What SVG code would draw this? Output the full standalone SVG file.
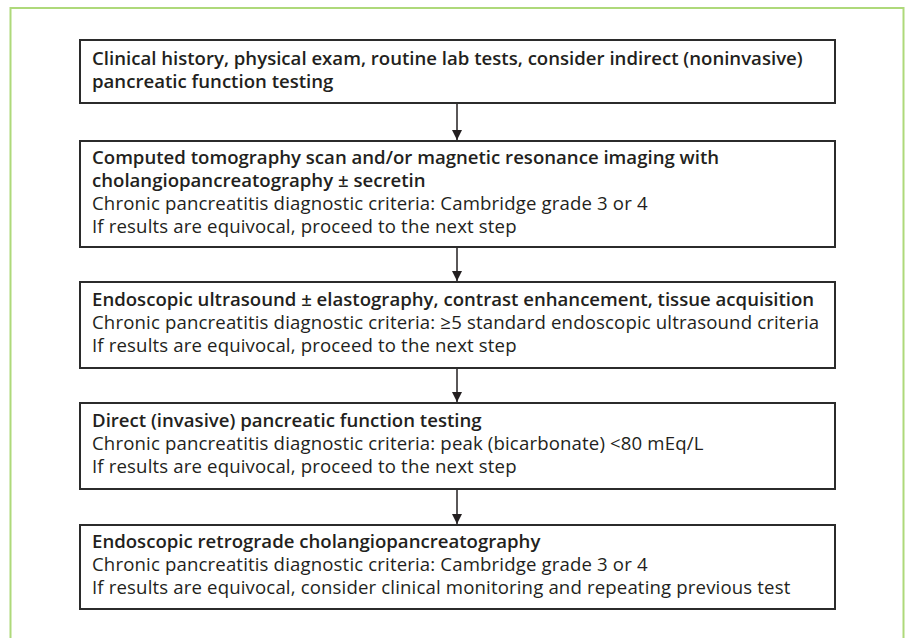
<svg xmlns="http://www.w3.org/2000/svg" width="906" height="638" viewBox="0 0 906 638">
<style>
.frame{fill:none;stroke:#aed97a;stroke-width:2}
.box{fill:#fff;stroke:#2b2b2b;stroke-width:2}
text{font-family:"Open Sans","Noto Sans",sans-serif;font-size:18.6px;letter-spacing:0.15px;fill:#231f20}
.b{font-weight:600;letter-spacing:0}
.con{stroke:#231f20;stroke-width:1.5;fill:none;marker-end:url(#ah)}
</style>
<defs>
<marker id="ah" viewBox="0 0 10 10" refX="10" refY="5" markerWidth="10" markerHeight="10" markerUnits="userSpaceOnUse" orient="auto">
<path d="M0,0 L10,5 L0,10 z" fill="#231f20"/>
</marker>
</defs>
<rect class="frame" x="10.5" y="8" width="893" height="640"/>
<g id="connectors">
<line class="con" x1="457" y1="103" x2="457" y2="140"/>
<line class="con" x1="457" y1="247" x2="457" y2="281"/>
<line class="con" x1="457" y1="368" x2="457" y2="402"/>
<line class="con" x1="457" y1="489" x2="457" y2="524"/>
</g>
<g id="n1">
<rect class="box" x="80" y="40" width="755" height="63"/>
<text class="b" x="92" y="65">Clinical history, physical exam, routine lab tests, consider indirect (noninvasive)</text>
<text class="b" x="92" y="88">pancreatic function testing</text>
</g>
<g id="n2">
<rect class="box" x="80" y="141" width="755" height="106"/>
<text class="b" x="92" y="164">Computed tomography scan and/or magnetic resonance imaging with</text>
<text class="b" x="92" y="187">cholangiopancreatography ± secretin</text>
<text x="92" y="210">Chronic pancreatitis diagnostic criteria: Cambridge grade 3 or 4</text>
<text x="92" y="233">If results are equivocal, proceed to the next step</text>
</g>
<g id="n3">
<rect class="box" x="80" y="282" width="755" height="86"/>
<text class="b" x="92" y="306">Endoscopic ultrasound ± elastography, contrast enhancement, tissue acquisition</text>
<text x="92" y="329">Chronic pancreatitis diagnostic criteria: ≥5 standard endoscopic ultrasound criteria</text>
<text x="92" y="352">If results are equivocal, proceed to the next step</text>
</g>
<g id="n4">
<rect class="box" x="80" y="403" width="755" height="86"/>
<text class="b" x="92" y="427">Direct (invasive) pancreatic function testing</text>
<text x="92" y="450">Chronic pancreatitis diagnostic criteria: peak (bicarbonate) &lt;80 mEq/L</text>
<text x="92" y="473">If results are equivocal, proceed to the next step</text>
</g>
<g id="n5">
<rect class="box" x="80" y="525" width="755" height="84"/>
<text class="b" x="92" y="548">Endoscopic retrograde cholangiopancreatography</text>
<text x="92" y="571">Chronic pancreatitis diagnostic criteria: Cambridge grade 3 or 4</text>
<text x="92" y="594">If results are equivocal, consider clinical monitoring and repeating previous test</text>
</g>
</svg>
